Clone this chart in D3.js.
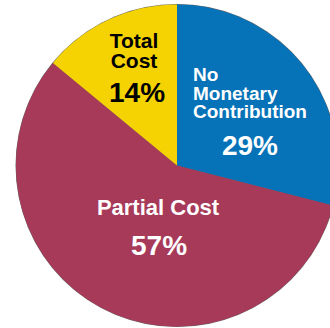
<!DOCTYPE html>
<html><head><meta charset="utf-8">
<script src="https://cdn.jsdelivr.net/npm/d3@7"></script>
<style>html,body{margin:0;padding:0;background:#fff;}svg{display:block;}</style>
</head><body>
<svg id="c" width="330" height="328"></svg>
<script>
const categories = ["No Monetary Contribution", "Partial Cost", "Total Cost"];
const values = [29, 57, 14];
const colors = ["#0672b8", "#a73a59", "#f5d302"];
const labelLines = [["No", "Monetary", "Contribution"], ["Partial Cost"], ["Total", "Cost"]];
const pctLabels = ["29%", "57%", "14%"];

const svg = d3.select("#c");
const cx = 177, cy = 165.5, r = 161;
const g = svg.append("g").attr("transform", `translate(${cx},${cy})`);
const pie = d3.pie().sort(null).value(d => d)(values);
const arc = d3.arc().innerRadius(0).outerRadius(r);
g.append("circle").attr("r", r + 0.5).attr("fill", "#666");
g.selectAll("path").data(pie).enter().append("path")
  .attr("d", arc).attr("fill", (d, i) => colors[i]);

const font = "'Liberation Sans', Arial, sans-serif";
// Blue slice labels (left-aligned)
const tb = g.append("text").attr("font-family", font).attr("font-weight", "bold")
  .attr("fill", "#fff").attr("font-size", 19).attr("text-anchor", "start");
[81, 100, 118].forEach((y, k) => tb.append("tspan").attr("x", 193 - cx).attr("y", y - cy).text(labelLines[0][k]));
g.append("text").attr("font-family", font).attr("font-weight", "bold").attr("fill", "#fff")
  .attr("font-size", 28).attr("text-anchor", "middle").attr("x", 250 - cx).attr("y", 155 - cy).text(pctLabels[0]);

// Red slice labels
g.append("text").attr("font-family", font).attr("font-weight", "bold").attr("fill", "#fff")
  .attr("font-size", 22).attr("text-anchor", "middle").attr("x", 158 - cx).attr("y", 215 - cy).text(labelLines[1][0]);
g.append("text").attr("font-family", font).attr("font-weight", "bold").attr("fill", "#fff")
  .attr("font-size", 28).attr("text-anchor", "middle").attr("x", 159 - cx).attr("y", 255 - cy).text(pctLabels[1]);

// Yellow slice labels
const ty = g.append("text").attr("font-family", font).attr("font-weight", "bold")
  .attr("fill", "#000").attr("font-size", 21).attr("text-anchor", "middle");
[48, 68].forEach((y, k) => ty.append("tspan").attr("x", 134 - cx).attr("y", y - cy).text(labelLines[2][k]));
g.append("text").attr("font-family", font).attr("font-weight", "bold").attr("fill", "#000")
  .attr("font-size", 28).attr("text-anchor", "middle").attr("x", 137 - cx).attr("y", 102 - cy).text(pctLabels[2]);
</script>
</body></html>
